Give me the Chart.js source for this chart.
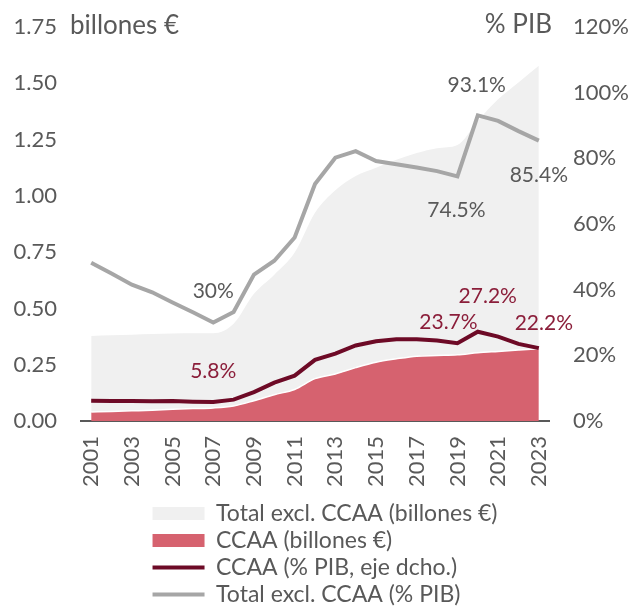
<!DOCTYPE html>
<html>
<head>
<meta charset="utf-8">
<script src="https://cdn.jsdelivr.net/npm/chart.js@4"></script>
<style>
  html, body { margin: 0; padding: 0; background: #ffffff; }
  #wrap { width: 641px; height: 611px; }
</style>
</head>
<body>
<div id="wrap"><canvas id="c" width="641" height="611"></canvas></div>
<script>
// ---- data ----
const years = ['2001','2002','2003','2004','2005','2006','2007','2008','2009','2010','2011','2012',
               '2013','2014','2015','2016','2017','2018','2019','2020','2021','2022','2023'];
// billones €
const totalExclCCAA = [0.338,0.339,0.338,0.338,0.337,0.335,0.332,0.365,0.475,0.533,0.608,0.737,
                       0.816,0.851,0.864,0.884,0.902,0.921,0.932,1.030,1.120,1.189,1.257];
const ccaa = [0.040,0.042,0.045,0.048,0.052,0.055,0.058,0.067,0.090,0.117,0.140,0.188,
              0.209,0.237,0.261,0.276,0.288,0.291,0.294,0.303,0.309,0.315,0.321];
// % PIB
const ccaaPct = [6.2,6.1,6.1,6.0,6.1,5.9,5.8,6.5,8.8,11.7,13.8,18.6,
                 20.5,23.0,24.3,24.9,24.9,24.5,23.7,27.2,25.7,23.5,22.2];
const totalExclPct = [48.2,44.9,41.5,39.2,36.1,33.1,30.0,33.2,44.6,48.8,55.9,72.2,
                      80.2,82.2,79.2,78.2,77.2,76.1,74.5,93.1,91.4,88.3,85.4];
// labelled years
const ccaaPctLabelYears = ['2007','2019','2020','2023'];
const totalPctLabelYears = ['2007','2019','2020','2023'];
// axis ticks
const leftTicks = [0,0.25,0.5,0.75,1.0,1.25,1.5,1.75];
const rightTicks = [0,20,40,60,80,100,120];

const FONT = 'Lato, "Open Sans", sans-serif';
const TXT = '#595959';
const DARKRED = '#6D0A26';
const LABELRED = '#8B1E3A';

// label offsets (pixels from the data point)
const spots = {
  2: { '2007': [0,-31], '2019': [-9,-21], '2020': [10,-35], '2023': [5,-25] },
  3: { '2007': [0,-31], '2019': [-1,34],  '2020': [-1,-30], '2023': [0,35] }
};
const LEGEND_SHIFT = 10;

const fmtPct = v => (Number.isInteger(v) ? String(v) : v.toFixed(1)) + '%';

const extrasPlugin = {
  id: 'extras',
  beforeDraw(chart) {
    const lg = chart.legend;
    if (lg && lg.lineWidths && lg.lineWidths.length) {
      const m = Math.max(...lg.lineWidths);
      lg.lineWidths = lg.lineWidths.map(() => m - 2 * LEGEND_SHIFT);
    }
  },
  afterDatasetsDraw(chart) {
    const ctx = chart.ctx;
    ctx.save();
    ctx.font = '21px ' + FONT;
    ctx.textAlign = 'center';
    ctx.textBaseline = 'middle';
    const sets = [[2, ccaaPctLabelYears, LABELRED], [3, totalPctLabelYears, TXT]];
    sets.forEach(([di, ys, col]) => {
      const meta = chart.getDatasetMeta(di);
      const data = chart.data.datasets[di].data;
      ys.forEach(y => {
        const i = years.indexOf(y);
        const pt = meta.data[i];
        const off = spots[di][y] || [0, -25];
        ctx.fillStyle = col;
        ctx.fillText(fmtPct(data[i]), pt.x + off[0], pt.y + off[1]);
      });
    });
    // axis unit captions
    const yS = chart.scales.y;
    const top = yS.getPixelForValue(1.75);
    ctx.font = '26px ' + FONT;
    ctx.fillStyle = TXT;
    ctx.textBaseline = 'alphabetic';
    ctx.textAlign = 'left';
    ctx.fillText('billones €', chart.chartArea.left - 11, top + 7);
    ctx.textAlign = 'right';
    ctx.fillText('% PIB', chart.chartArea.right + 3, top + 6);
    ctx.restore();
  }
};

const noVPad = s => { s.paddingTop = 0; s.paddingBottom = 0; };

const chart = new Chart(document.getElementById('c'), {
  type: 'line',
  data: {
    labels: years,
    datasets: [
      {
        label: 'Total excl. CCAA (billones €)',
        data: totalExclCCAA,
        yAxisID: 'y',
        backgroundColor: '#F0F0F0',
        borderColor: 'rgba(0,0,0,0)',
        borderWidth: 0,
        fill: 1,
        pointRadius: 0,
        cubicInterpolationMode: 'monotone',
        order: 3
      },
      {
        label: 'CCAA (billones €)',
        data: ccaa,
        yAxisID: 'y',
        backgroundColor: '#D6626F',
        borderColor: '#ffffff',
        borderWidth: 1.5,
        fill: 'origin',
        pointRadius: 0,
        cubicInterpolationMode: 'monotone',
        order: 2
      },
      {
        label: 'CCAA (% PIB, eje dcho.)',
        data: ccaaPct,
        yAxisID: 'y1',
        borderColor: DARKRED,
        backgroundColor: DARKRED,
        borderWidth: 4,
        fill: false,
        pointRadius: 0,
        tension: 0,
        order: 0
      },
      {
        label: 'Total excl. CCAA (% PIB)',
        data: totalExclPct,
        yAxisID: 'y1',
        borderColor: '#A6A6A6',
        backgroundColor: '#A6A6A6',
        borderWidth: 4,
        fill: false,
        pointRadius: 0,
        tension: 0,
        order: 1
      }
    ]
  },
  options: {
    responsive: false,
    animation: false,
    devicePixelRatio: 1,
    layout: { padding: { top: 27, left: 0, right: 0, bottom: -5 } },
    plugins: {
      tooltip: { enabled: false },
      title: { display: false },
      legend: {
        position: 'bottom',
        fullSize: false,
        align: 'center',
        labels: {
          font: { family: FONT, size: 23 },
          color: TXT,
          padding: 4,
          usePointStyle: true,
          pointStyleWidth: 52,
          boxHeight: 13,
          sort: (a, b) => a.datasetIndex - b.datasetIndex,
          generateLabels: (ch) => ch.data.datasets.map((ds, i) => {
            const isArea = i < 2;
            return {
              text: ds.label,
              datasetIndex: i,
              fillStyle: isArea ? ds.backgroundColor : ds.borderColor,
              strokeStyle: isArea ? ds.backgroundColor : ds.borderColor,
              lineWidth: isArea ? 0 : 4,
              pointStyle: isArea ? 'rect' : 'line',
              fontColor: TXT,
              hidden: false
            };
          })
        }
      }
    },
    scales: {
      x: {
        offset: true,
        grid: { display: false, drawTicks: false },
        border: { display: true, color: '#595959', width: 2 },
        ticks: {
          autoSkip: false,
          maxRotation: 90,
          minRotation: 90,
          padding: 15,
          color: TXT,
          font: { family: FONT, size: 22 },
          callback: function(v, i) { const y = years[i]; return (parseInt(y) % 2 === 1) ? y : ''; }
        },
        afterFit: s => { s.height = 77; }
      },
      y: {
        position: 'left',
        stacked: true,
        min: 0, max: 1.75,
        afterBuildTicks: s => { s.ticks = leftTicks.map(v => ({ value: v })); },
        grid: { display: false, drawTicks: false },
        border: { display: false },
        ticks: {
          padding: 24,
          color: TXT,
          font: { family: FONT, size: 22 },
          callback: v => Number(v).toFixed(2)
        },
        afterFit: s => { s.width = 81; noVPad(s); }
      },
      y1: {
        position: 'right',
        stacked: false,
        min: 0, max: 120,
        afterBuildTicks: s => { s.ticks = rightTicks.map(v => ({ value: v })); },
        grid: { display: false, drawTicks: false },
        border: { display: false },
        ticks: {
          padding: 24,
          color: TXT,
          font: { family: FONT, size: 22 },
          callback: v => v + '%'
        },
        afterFit: s => { s.width = 92; noVPad(s); }
      }
    }
  },
  plugins: [extrasPlugin]
});
</script>
</body>
</html>
